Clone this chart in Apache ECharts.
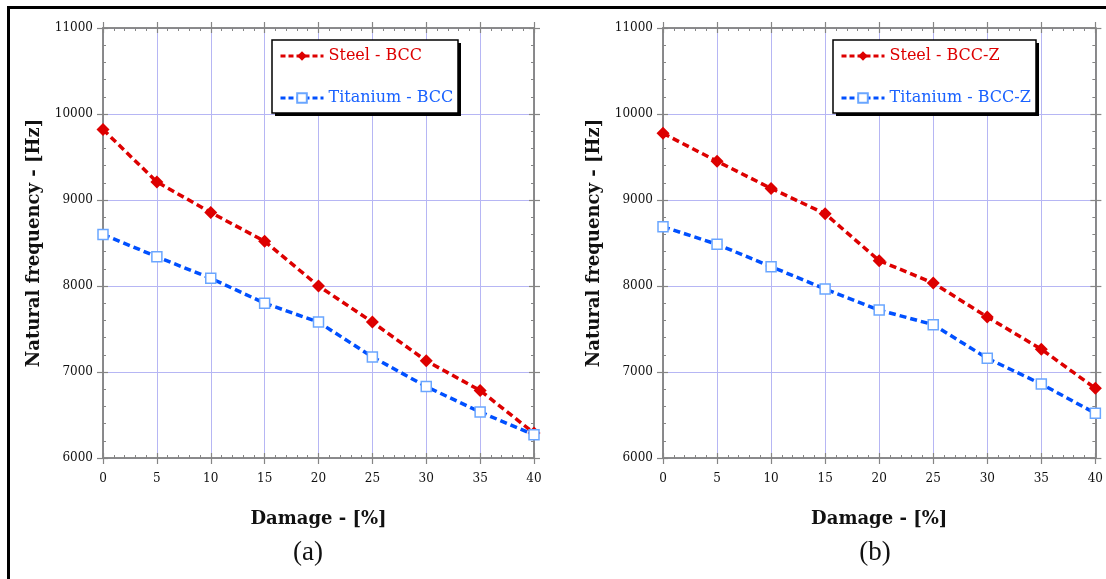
<!DOCTYPE html>
<html>
<head>
<meta charset="utf-8">
<script src="https://cdn.jsdelivr.net/npm/echarts@6/dist/echarts.min.js"></script>
<style>
html,body{margin:0;padding:0;background:#fff;}
#chart{width:1106px;height:579px;}
</style>
</head>
<body>
<div id="chart"></div>
<script>
// ---- data ----
const damage = [0, 5, 10, 15, 20, 25, 30, 35, 40];
const steelBCC = [9820, 9210, 8855, 8520, 8000, 7580, 7130, 6785, 6290];
const titaniumBCC = [8600, 8340, 8090, 7800, 7580, 7175, 6830, 6535, 6270];
const steelBCCZ = [9775, 9450, 9135, 8840, 8295, 8035, 7640, 7265, 6810];
const titaniumBCCZ = [8690, 8485, 8225, 7965, 7720, 7550, 7160, 6860, 6520];
const seriesNames = ['Steel - BCC', 'Titanium - BCC', 'Steel - BCC-Z', 'Titanium - BCC-Z'];
const panelLabels = ['(a)', '(b)'];
const xTitle = 'Damage - [%]';
const yTitle = 'Natural frequency - [Hz]';

const RED = '#dd0000';
const BLUE = '#0050ff';
const BLUE_MARK = '#6aa6ff';
const AXIS = '#858585';
const GRIDC = '#b6b6f4';
const SERIF = 'DejaVu Serif';

const pairs = (ys) => damage.map((d, i) => [d, ys[i]]);
const plain = (v) => String(v);

function xAxes(g) {
  const base = {type: 'value', gridIndex: g, min: 0, max: 40, interval: 5,
    axisLine: {show: true, onZero: false, lineStyle: {color: AXIS, width: 1.5}},
    splitLine: {show: false}, axisLabel: {show: false}};
  return [
    Object.assign({}, base, {position: 'bottom',
      axisTick: {show: true, inside: false, length: 6, lineStyle: {color: AXIS, width: 1.2}},
      axisLabel: {show: true, margin: 15, color: '#111', fontFamily: SERIF, fontSize: 12, formatter: plain},
      splitLine: {show: true, lineStyle: {color: GRIDC, width: 1}},
      name: xTitle, nameLocation: 'middle', nameGap: 52,
      nameTextStyle: {fontFamily: SERIF, fontWeight: 'bold', fontSize: 18, color: '#111'}}),
    Object.assign({}, base, {position: 'bottom',
      axisTick: {show: true, inside: true, length: 5, lineStyle: {color: AXIS, width: 1.2}},
      minorTick: {show: true, splitNumber: 5, length: 3, lineStyle: {color: AXIS, width: 1}}}),
    Object.assign({}, base, {position: 'top',
      axisTick: {show: true, inside: false, length: 6, lineStyle: {color: AXIS, width: 1.2}}}),
    Object.assign({}, base, {position: 'top',
      axisTick: {show: true, inside: true, length: 5, lineStyle: {color: AXIS, width: 1.2}},
      minorTick: {show: true, splitNumber: 5, length: 3, lineStyle: {color: AXIS, width: 1}}})
  ];
}
function yAxes(g) {
  const base = {type: 'value', gridIndex: g, min: 6000, max: 11000, interval: 1000,
    axisLine: {show: true, onZero: false, lineStyle: {color: AXIS, width: 1.5}},
    splitLine: {show: false}, axisLabel: {show: false}};
  return [
    Object.assign({}, base, {position: 'left',
      axisTick: {show: true, inside: false, length: 6, lineStyle: {color: AXIS, width: 1.2}},
      axisLabel: {show: true, margin: 10, color: '#111', fontFamily: SERIF, fontSize: 12, formatter: plain},
      splitLine: {show: true, lineStyle: {color: GRIDC, width: 1}},
      name: yTitle, nameLocation: 'middle', nameGap: 60,
      nameTextStyle: {fontFamily: SERIF, fontWeight: 'bold', fontSize: 18, color: '#111'}}),
    Object.assign({}, base, {position: 'left',
      axisTick: {show: true, inside: true, length: 5, lineStyle: {color: AXIS, width: 1.2}},
      minorTick: {show: true, splitNumber: 5, length: 3, lineStyle: {color: AXIS, width: 1}}}),
    Object.assign({}, base, {position: 'right',
      axisTick: {show: true, inside: false, length: 6, lineStyle: {color: AXIS, width: 1.2}}}),
    Object.assign({}, base, {position: 'right',
      axisTick: {show: true, inside: true, length: 5, lineStyle: {color: AXIS, width: 1.2}},
      minorTick: {show: true, splitNumber: 5, length: 3, lineStyle: {color: AXIS, width: 1}}})
  ];
}

function steelSeries(name, ys, g) {
  return {name: name, type: 'line', xAxisIndex: g * 4, yAxisIndex: g * 4, data: pairs(ys),
    symbol: 'diamond', symbolSize: 13, z: 3,
    itemStyle: {color: RED},
    lineStyle: {color: RED, width: 3.5, type: [7, 4]}};
}
function tiSeries(name, ys, g) {
  return {name: name, type: 'line', xAxisIndex: g * 4, yAxisIndex: g * 4, data: pairs(ys),
    symbol: 'rect', symbolSize: 10, z: 4,
    itemStyle: {color: '#ffffff', borderColor: BLUE_MARK, borderWidth: 1.5},
    lineStyle: {color: BLUE, width: 3.5, type: [7, 4]}};
}
function legend(g, left) {
  return {left: left, top: 40, orient: 'vertical', itemGap: 26, itemWidth: 43, itemHeight: 12,
    padding: [8, 8, 8, 7], backgroundColor: 'transparent', borderWidth: 0, z: 6,
    lineStyle: {width: 3, type: [5, 3]},
    textStyle: {fontFamily: SERIF, fontSize: 16},
    data: [
      {name: seriesNames[g * 2], textStyle: {color: RED}},
      {name: seriesNames[g * 2 + 1], textStyle: {color: '#1a62ff'}}
    ]};
}
function legendBox(x, w) {
  return [
    {type: 'rect', z: 5, shape: {x: x + 3, y: 43, width: w, height: 73}, style: {fill: '#000'}},
    {type: 'rect', z: 5, shape: {x: x, y: 40, width: w, height: 73}, style: {fill: '#fff', stroke: '#000', lineWidth: 1.5}}
  ];
}

const chart = echarts.init(document.getElementById('chart'), null, {renderer: 'canvas'});
chart.setOption({
  animation: false,
  backgroundColor: '#fff',
  grid: [
    {left: 103, top: 28, width: 431, height: 430},
    {left: 663, top: 28, width: 434, height: 430}
  ],
  xAxis: xAxes(0).concat(xAxes(1)),
  yAxis: yAxes(0).concat(yAxes(1)),
  legend: [legend(0, 272), legend(1, 833)],
  series: [
    steelSeries(seriesNames[0], steelBCC, 0),
    tiSeries(seriesNames[1], titaniumBCC, 0),
    steelSeries(seriesNames[2], steelBCCZ, 1),
    tiSeries(seriesNames[3], titaniumBCCZ, 1)
  ],
  graphic: [
    {type: 'line', shape: {x1: 7, y1: 7.5, x2: 1106, y2: 7.5}, style: {stroke: '#000', lineWidth: 3}},
    {type: 'line', shape: {x1: 8.5, y1: 6, x2: 8.5, y2: 579}, style: {stroke: '#000', lineWidth: 3}},
    {type: 'text', x: 308, y: 553, style: {text: panelLabels[0], font: '27px "Liberation Serif"', fill: '#111', textAlign: 'center', textVerticalAlign: 'middle'}},
    {type: 'text', x: 875, y: 553, style: {text: panelLabels[1], font: '27px "Liberation Serif"', fill: '#111', textAlign: 'center', textVerticalAlign: 'middle'}}
  ].concat(legendBox(272, 186), legendBox(833, 203))
});
</script>
</body>
</html>
